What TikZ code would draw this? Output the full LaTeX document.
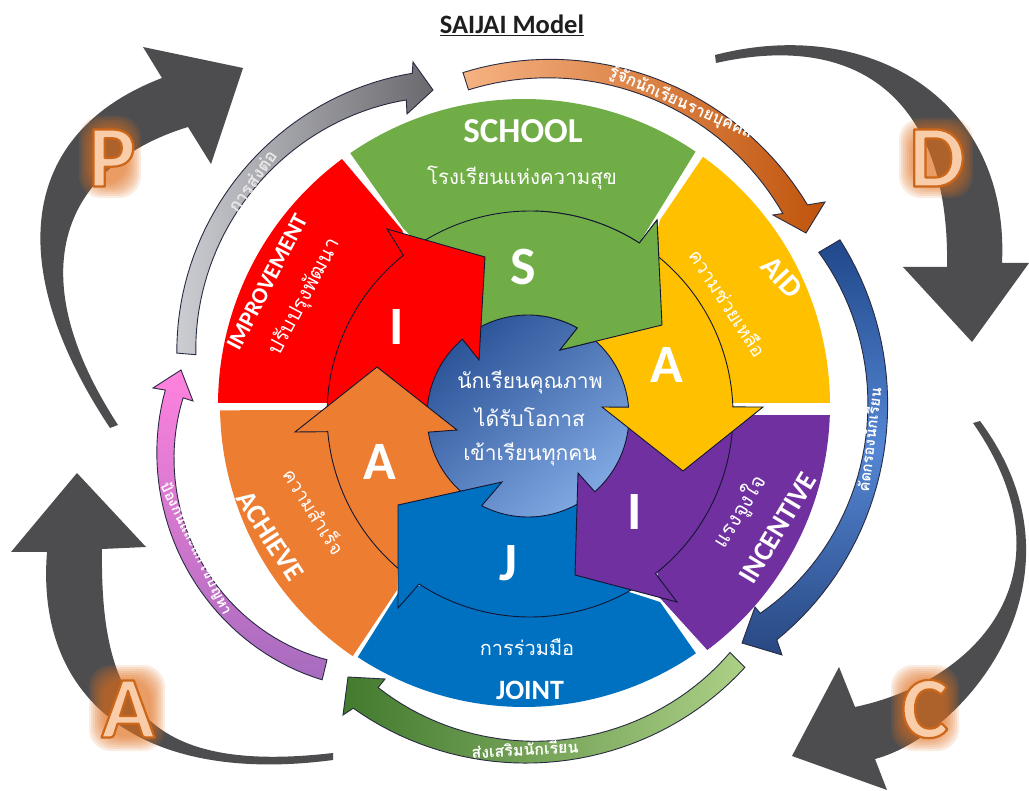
\documentclass[tikz,border=0pt]{standalone}
\usepackage{fontspec}
\setmainfont{Carlito}
\newfontfamily\thaifont[Script=Thai]{Loma}
\definecolor{cgreen}{RGB}{112,173,71}
\definecolor{cyellow}{RGB}{255,192,0}
\definecolor{cpurple}{RGB}{112,48,160}
\definecolor{cblue}{RGB}{0,112,192}
\definecolor{corange}{RGB}{237,125,49}
\definecolor{cred}{RGB}{255,0,0}
\definecolor{bigdark}{RGB}{77,77,80}
\definecolor{edgedark}{RGB}{18,22,50}
\definecolor{glow}{RGB}{226,112,30}
\definecolor{peach}{RGB}{250,205,170}
\newcommand\RP[1]{({530+203*cos(#1)},{414+203*sin(#1)})}
\newcommand\CP[1]{({528+101*cos(#1)},{416+101*sin(#1)})}
\newcommand\OP[2]{({524+#2*cos(#1)},{405+#2*sin(#1)})}
\newcommand\radq[3]{(#1*(1-\x)*(1-2*\x)+4*#2*\x*(1-\x)+#3*\x*(2*\x-1))}
\newcommand\arcq[5]{plot[domain=0:1,samples=41] ({524+\radq{#3}{#4}{#5}*cos((#1)+((#2)-(#1))*\x)},{405+\radq{#3}{#4}{#5}*sin((#1)+((#2)-(#1))*\x)})}
\newcommand\toarcq[5]{-- plot[domain=0:1,samples=41] ({524+\radq{#3}{#4}{#5}*cos((#1)+((#2)-(#1))*\x)},{405+\radq{#3}{#4}{#5}*sin((#1)+((#2)-(#1))*\x)})}
\newcommand\sz[1]{\fontsize{#1}{#1}\selectfont}
\newcommand\outlined[1]{\special{pdf:code q 2 Tr 1 j 2.2 w 0.80 0.40 0.10 RG}#1\special{pdf:code Q}}
\newcommand\halo[4]{\foreach \d in {0,2,...,14}{\fill[glow,fill opacity=.13,rounded corners=22pt]
  ({#1-#3+\d},{#2-#4+\d}) rectangle ({#1+#3-\d},{#2+#4-\d});}}
\tikzset{
  band/.style={draw=edgedark,line width=0.9pt,line join=miter},
  ribbon/.style={draw=edgedark!80!gray,line width=0.9pt,line join=miter},
  head/.style={font=\bfseries\sz{54},text=white,inner sep=0pt},
  word/.style={font=\bfseries\sz{#1},text=white,inner sep=0pt},
  thai/.style={font=\thaifont\sz{#1},text=white,inner sep=0pt},
  thaib/.style={font=\thaifont\bfseries\sz{#1},text=white,inner sep=0pt},
  pdca/.style={font=\bfseries\sz{88},text=peach,inner sep=0pt},
}
\begin{document}
\begin{tikzpicture}[x=1pt,y=1pt,yscale=-1]
\useasboundingbox (0,0) rectangle (1029,791);
\fill[white] (0,0) rectangle (1029,791);

% big PDCA arrows
\fill[bigdark] (110,428) .. controls (5,270) and (16,134) .. (162,78)
  -- (143,47) -- (243,68) -- (211,164) -- (188,127)
  .. controls (73,162) and (12,262) .. (118,425) -- cycle;
\fill[bigdark] (715,55) .. controls (870,15) and (1010,100) .. (1002,263)
  -- (1029,263) -- (972,342) -- (903,267) -- (947,267)
  .. controls (950,105) and (864,30) .. (716,63) -- cycle;
\fill[bigdark] (980,421) .. controls (1097,578) and (965,735) .. (875,759)
  -- (887,790) -- (792,756) -- (839,667) -- (855,707)
  .. controls (982,680) and (1075,570) .. (973,423) -- cycle;
\fill[bigdark] (333,760) .. controls (145,785) and (35,703) .. (47,552)
  -- (11,552) -- (77,473) -- (146,547) -- (102,549)
  .. controls (100,700) and (142,775) .. (333,753) -- cycle;

% ribbon arrows
\shadedraw[ribbon,left color={rgb,255:red,204;green,205;blue,210},middle color={rgb,255:red,176;green,176;blue,180},right color={rgb,255:red,105;green,105;blue,110}]
  \arcq{188.5}{251.4}{351}{366}{350} -- (413,62) -- (433,90) -- (407,114) \toarcq{248.9}{188.7}{327}{346}{332} -- cycle;
\shadedraw[ribbon,left color={rgb,255:red,246;green,178;blue,130},right color={rgb,255:red,192;green,84;blue,12}]
  \arcq{-100.4}{-35.2}{338}{352}{347} -- (825,202) -- (806,233) -- (773,215) \toarcq{-36.5}{-100}{322}{332}{320} -- cycle;
\shadedraw[ribbon,top color={rgb,255:red,32;green,72;blue,138},bottom color={rgb,255:red,40;green,72;blue,130},middle color={rgb,255:red,84;green,134;blue,212}]
  \arcq{-27.6}{42.9}{356.5}{363}{345} -- (782,655) -- (742,643) -- (755,607) \toarcq{41.4}{-27.4}{315}{343}{332} -- cycle;
\shadedraw[ribbon,left color={rgb,255:red,66;green,122;blue,46},right color={rgb,255:red,172;green,208;blue,134}]
  \arcq{49.9}{119.4}{343}{358}{348} -- (343,715) -- (348,677) -- (385,679) \toarcq{117.3}{50.2}{318}{337}{322} -- cycle;
\shadedraw[ribbon,top color={rgb,255:red,255;green,130;blue,222},bottom color={rgb,255:red,166;green,108;blue,190}]
  \arcq{126.3}{182.4}{341}{375}{359} -- (153,388) -- (181,370) -- (193,401) \toarcq{181.2}{127.7}{341}{359}{322} -- cycle;

% outer sectors
\fill[cgreen] \OP{-124.6}{306} arc[start angle=-124.6,end angle=-55.9,radius=306] -- (638,245) -- (600,320) -- (500,330) -- (403,228) -- cycle;
\fill[cyellow] \OP{-54.2}{306} arc[start angle=-54.2,end angle=-0.4,radius=306] -- (700,403) -- (640,300) -- (660,220) -- cycle;
\fill[cpurple] (735,415) -- \OP{1.9}{306} arc[start angle=1.9,end angle=53.2,radius=306] -- (660,598) -- (650,500) -- cycle;
\fill[cblue] \OP{55.3}{302} arc[start angle=55.3,end angle=123.4,radius=302] -- (400,590) -- (530,560) -- (660,602) -- cycle;
\fill[corange] \OP{124.3}{304} arc[start angle=124.3,end angle=179,radius=304] -- (330,410) -- (400,500) -- (397,590) -- cycle;
\fill[cred] \OP{180.4}{306} arc[start angle=180.4,end angle=233.5,radius=306] -- (402,230) -- (430,300) -- (330,403) -- cycle;

% central circle
\shade[top color={rgb,255:red,44;green,84;blue,152},bottom color={rgb,255:red,128;green,168;blue,226},shading angle=40]
  (528,416) circle[radius=101];

% cycle arrows
\def\greenpath{(657,220) -- (662,325) -- (560,350) -- \CP{-60.7} arc[start angle=-60.7,end angle=-125,radius=101] -- \RP{-125} arc[start angle=-125,end angle=-57.4,radius=203] -- cycle}
\draw[band,fill=cgreen] \greenpath;
\draw[band,fill=cred] (387,229) -- (485,257) -- (479,360) -- \CP{229.5} arc[start angle=229.5,end angle=180,radius=101] -- \RP{178} arc[start angle=178,end angle=231.4,radius=203] -- cycle;
\draw[band,fill=corange] (295,432) -- (377,367) -- (457,430) -- \CP{170.8} arc[start angle=170.8,end angle=125,radius=101] -- \RP{127} arc[start angle=127,end angle=175,radius=203] -- cycle;
\draw[band,fill=cblue] (502,482) -- (398,505) -- (398,608) -- \RP{123.1} arc[start angle=123.1,end angle=57,radius=203] -- \CP{55} arc[start angle=55,end angle=117.3,radius=101] -- cycle;
\draw[band,fill=cpurple] (578,473) -- (575,575) -- (677,602) -- \RP{51.8} arc[start angle=51.8,end angle=3,radius=203] -- \CP{3} arc[start angle=3,end angle=48.6,radius=101] -- cycle;
\draw[band,fill=cyellow] (602,407) -- (683,471) -- (763,407) -- \RP{-2} arc[start angle=-2,end angle=-53,radius=203] -- \CP{-55} arc[start angle=-55,end angle=-5,radius=101] -- cycle;
\begin{scope}
  \clip (536,200) rectangle (700,360);
  \draw[band,fill=cgreen] \greenpath;
\end{scope}

% PDCA letters
\halo{110}{157}{31}{41}
\halo{936}{158}{37}{40}
\halo{925}{708}{34}{43}
\halo{127}{708}{38}{43}
\node[pdca] (letterP) at (112,158) {\outlined{P}};
\node[pdca] (letterD) at (937,158) {\outlined{D}};
\node[pdca] (letterC) at (925,709) {\outlined{C}};
\node[pdca] (letterA) at (128,709) {\outlined{A}};

% title
\node[font=\bfseries\sz{26.5},text={rgb,255:red,30;green,30;blue,30},inner sep=0pt] (title) at (512,25) {\underline{SAIJAI Model}};

% ring letters
\node[head] (ringS) at (523,267) {S};
\node[head] (ringA) at (667,365) {A};
\node[head] (ringI) at (635,512) {I};
\node[head] (ringJ) at (508,563) {J};
\node[head] (ringAb) at (380,462) {A};
\node[head] (ringIb) at (397,327) {I};

% sector labels
\node[word=35] (school) at (523,131) {SCHOOL};
\node[thai=20.5] (schoolth) at (522,178) {โรงเรียนแห่งความสุข};
\node[word=30,rotate=-47] (aid) at (782,277) {AID};
\node[thai=19,rotate=-57] (aidth) at (728,303) {ความช่วยเหลือ};
\node[word=28,rotate=59] (incentive) at (778,528) {INCENTIVE};
\node[thai=21,rotate=58] (incth) at (740,512) {แรงจูงใจ};
\node[word=28] (joint) at (530,690) {JOINT};
\node[thai=20] (jointth) at (527,647) {การร่วมมือ};
\node[word=28,rotate=-57] (achieve) at (270,536) {ACHIEVE};
\node[thai=19,rotate=-58] (achth) at (315,511) {ความสำเร็จ};
\node[word=23,rotate=62.5] (improve) at (267,282) {IMPROVEMENT};
\node[thai=20.5,rotate=62] (impth) at (305,297) {ปรับปรุงพัฒนา};

% centre text
\node[thai=21] (c1) at (530,382) {นักเรียนคุณภาพ};
\node[thai=21] (c2) at (530,417) {ได้รับโอกาส};
\node[thai=21] (c3) at (530,454) {เข้าเรียนทุกคน};

% ribbon labels
\node[thaib=17.5,text={rgb,255:red,232;green,232;blue,232},rotate=55] (rib1) at (252,181) {การส่งต่อ};
\node[thaib=16.5,rotate=-24] (rib2) at (681,103) {รู้จักนักเรียนรายบุคคล};
\node[thaib=15,rotate=83] (rib3) at (869,440) {คัดกรองนักเรียน};
\node[thaib=16,rotate=3] (rib4) at (525,749) {ส่งเสริมนักเรียน};
\node[thaib=14.5,rotate=-64] (rib5) at (196,549) {ป้องกันและแก้ไขปัญหา};
\end{tikzpicture}
\end{document}
